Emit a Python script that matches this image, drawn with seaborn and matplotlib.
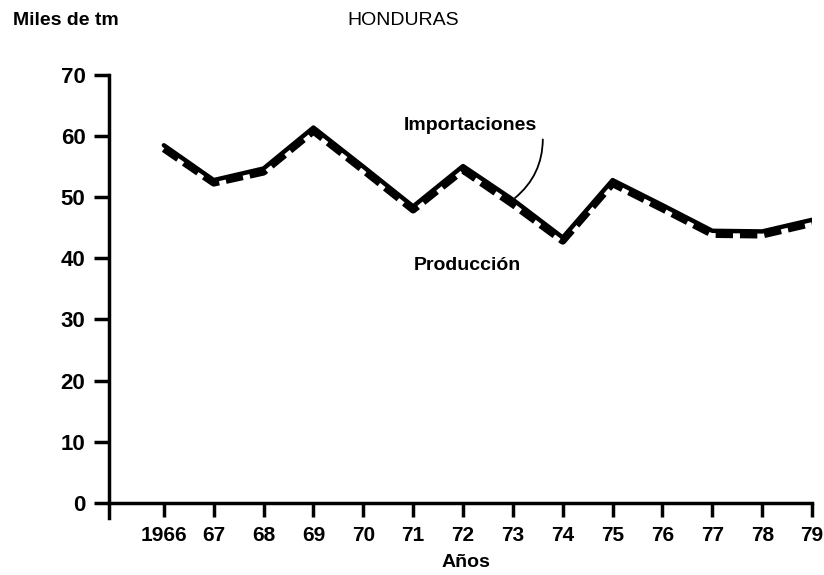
import pandas as pd
import seaborn as sns
import matplotlib.pyplot as plt

# Data (miles de tm)
years = [1966, 1967, 1968, 1969, 1970, 1971, 1972, 1973, 1974, 1975, 1976, 1977, 1978, 1979]
year_labels = ['1966', '67', '68', '69', '70', '71', '72', '73', '74', '75', '76', '77', '78', '79']
importaciones = [58.5, 52.8, 54.7, 61.4, 55.0, 48.5, 55.1, 49.6, 43.4, 52.8, 48.7, 44.5, 44.4, 46.3]
produccion = [57.9, 52.3, 54.1, 60.8, 54.4, 47.9, 54.4, 48.8, 42.8, 52.2, 48.1, 43.9, 43.8, 45.7]

sns.set_style("white")
plt.rcParams['font.family'] = ['Liberation Sans', 'DejaVu Sans']
plt.rcParams['text.color'] = 'black'
plt.rcParams['xtick.color'] = 'black'
plt.rcParams['ytick.color'] = 'black'

fig = plt.figure(figsize=(8.24, 5.75), dpi=100)
ax = fig.add_axes([0.1323, 0.0991, 0.8532, 0.7705])

df = pd.DataFrame({'year': years, 'imp': importaciones, 'prod': produccion})

# Produccion: heavy dashed line, importaciones: solid line on top
sns.lineplot(data=df, x='year', y='prod', ax=ax, color='black', lw=5,
             linestyle=(0, (2.5, 1)))
sns.lineplot(data=df, x='year', y='imp', ax=ax, color='black', lw=3.2)

ax.set_xlim(1964.9, 1979)
ax.set_ylim(-2.5, 70)
ax.set_yticks(range(0, 71, 10))
ax.set_xticks(years)
ax.set_xticklabels(year_labels)

for s in ['top', 'right']:
    ax.spines[s].set_visible(False)
for s in ['left', 'bottom']:
    ax.spines[s].set_linewidth(2.5)
    ax.spines[s].set_color('black')
ax.spines['bottom'].set_position(('data', 0))

ax.tick_params(axis='y', direction='out', length=11, width=2.5, pad=6,
               labelsize=16, left=True)
ax.tick_params(axis='x', direction='out', length=10, width=2.5, pad=7,
               labelsize=15, bottom=True)
for lab in ax.get_xticklabels() + ax.get_yticklabels():
    lab.set_fontweight('bold')

ax.set_xlabel('')
ax.set_ylabel('')

# labels for the two series
ax.text(1972.14, 61.8, 'Importaciones', ha='center', va='center',
        fontsize=14, fontweight='bold')
ax.annotate('', xy=(1973, 49.6), xytext=(1973.6, 59.9),
            arrowprops=dict(arrowstyle='-', lw=1.3, color='black',
                            connectionstyle='arc3,rad=-0.25'))
ax.text(1972.08, 38.9, 'Producción', ha='center', va='center',
        fontsize=14, fontweight='bold')

fig.text(0.016, 0.965, 'Miles de tm', ha='left', va='center', fontsize=14, fontweight='bold')
fig.text(0.421, 0.965, 'HONDURAS', ha='left', va='center', fontsize=14)
fig.text(0.566, 0.0226, 'Años', ha='center', va='center', fontsize=14, fontweight='bold')

plt.savefig('out.png', dpi=100)
